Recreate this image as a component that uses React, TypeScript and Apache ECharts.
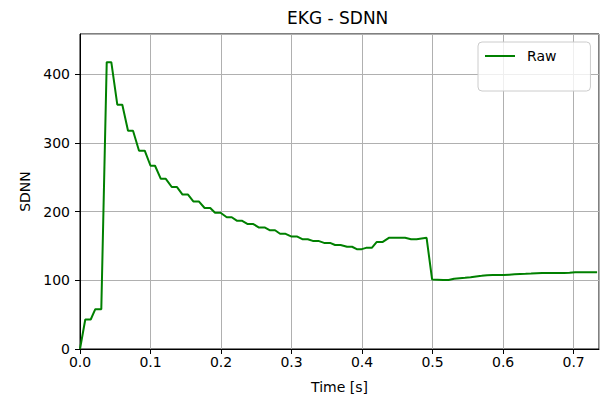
import React, { useEffect, useRef } from "react";
import * as echarts from "echarts";

const times: number[] = [
  0, 0.0075, 0.0152, 0.0217, 0.0302, 0.0379, 0.0444, 0.0529, 0.06, 0.0681,
  0.0752, 0.0837, 0.0918, 0.1, 0.1064, 0.1146, 0.1217, 0.1301, 0.1376, 0.1454,
  0.1532, 0.1607, 0.1685, 0.1767, 0.1847, 0.1915, 0.1993, 0.2081, 0.2152, 0.2223,
  0.2294, 0.2379, 0.2458, 0.2539, 0.2624, 0.2695, 0.2766, 0.2837, 0.2908, 0.2993,
  0.3074, 0.3153, 0.323, 0.3301, 0.338, 0.3461, 0.3546, 0.3617, 0.3695, 0.3787,
  0.3858, 0.3925, 0.3996, 0.4057, 0.4138, 0.4209, 0.4294, 0.438, 0.4454, 0.4532,
  0.461, 0.4695, 0.4773, 0.4844, 0.4915, 0.4993, 0.5071, 0.5149, 0.5227, 0.5305,
  0.5383, 0.5461, 0.5539, 0.5617, 0.5695, 0.5773, 0.5851, 0.5929, 0.6007, 0.6085,
  0.6163, 0.6241, 0.6319, 0.6397, 0.6475, 0.6553, 0.6631, 0.6709, 0.6787, 0.6865,
  0.6943, 0.7021, 0.7099, 0.7177, 0.7255, 0.7333,
];

const sdnn: number[] = [
  0, 43, 43, 58, 58, 418, 418, 356, 356, 318,
  318, 289, 289, 267, 267, 248, 248, 236, 236, 225,
  225, 215, 215, 205.5, 205.5, 198.5, 198.5, 192, 192, 187,
  187, 182, 182, 177, 177, 173, 173, 168, 168, 164,
  164, 160, 160, 157.5, 157.5, 154.6, 154.6, 151.5, 151.5, 149,
  149, 145.5, 145.5, 147.4, 147.4, 156, 156, 162, 162, 162,
  162, 160, 160, 161, 162, 101.4, 101, 100.6, 100.5, 102.5,
  103.2, 103.8, 104.6, 105.8, 106.6, 107.5, 107.7, 107.7, 107.8, 108.3,
  108.8, 109.3, 109.6, 110, 110.5, 110.6, 110.7, 110.8, 110.8, 110.8,
  111, 111.8, 112, 112, 112, 112,
];

const xTicksInterval = 0.1;
const yTicksInterval = 100;

export default function App() {
  const ref = useRef<HTMLDivElement>(null);
  useEffect(() => {
    document.body.style.margin = "0";
    if (!ref.current) return;
    const chart = echarts.init(ref.current, undefined, { renderer: "svg" });
    const font = "DejaVu Sans";
    chart.setOption({
      animation: false,
      backgroundColor: "#ffffff",
      title: {
        text: "EKG - SDNN",
        left: 287,
        top: 9,
        padding: 0,
        textStyle: { fontFamily: font, fontSize: 17, fontWeight: "normal", color: "#000" },
      },
      legend: {
        show: true,
        left: 478,
        top: 42,
        orient: "vertical",
        padding: [7, 34, 28, 7],
        backgroundColor: "rgba(255,255,255,0.8)",
        borderColor: "#cccccc",
        borderWidth: 1,
        borderRadius: 4,
        itemWidth: 30,
        itemHeight: 2,
        itemGap: 8,
        data: [{ name: "Raw", icon: "rect" }],
        textStyle: { fontFamily: font, fontSize: 14, color: "#000", padding: [0, 0, 0, 7] },
      },
      grid: {
        left: 80,
        top: 34,
        right: 1,
        bottom: 48,
        show: true,
        borderColor: "#000",
        borderWidth: 1,
        backgroundColor: "transparent",
      },
      xAxis: {
        type: "value",
        min: 0,
        max: 0.736,
        interval: xTicksInterval,
        name: "Time [s]",
        nameLocation: "middle",
        nameGap: 31,
        nameTextStyle: { fontFamily: font, fontSize: 14, color: "#000" },
        axisLine: { show: true, onZero: false, lineStyle: { color: "#000", width: 1 } },
        axisTick: { show: true, length: 5, lineStyle: { color: "#000" } },
        axisLabel: {
          fontFamily: font,
          fontSize: 14,
          color: "#000",
          margin: 6,
          showMaxLabel: false,
          formatter: (v: number) => v.toFixed(1),
        },
        splitLine: { show: true, lineStyle: { color: "#b0b0b0", width: 1 } },
      },
      yAxis: {
        type: "value",
        min: 0,
        max: 459,
        interval: yTicksInterval,
        name: "SDNN",
        nameLocation: "middle",
        nameGap: 48,
        nameTextStyle: { fontFamily: font, fontSize: 14, color: "#000" },
        axisLine: { show: true, lineStyle: { color: "#000", width: 1 } },
        axisTick: { show: true, length: 5, lineStyle: { color: "#000" } },
        axisLabel: {
          fontFamily: font,
          fontSize: 14,
          color: "#000",
          margin: 10,
          showMaxLabel: false,
          formatter: (v: number) => (v % 100 === 0 ? String(v) : ""),
        },
        splitLine: { show: true, lineStyle: { color: "#b0b0b0", width: 1 } },
      },
      series: [
        {
          name: "Raw",
          type: "line",
          data: times.map((t, i) => [t, sdnn[i]]),
          showSymbol: false,
          symbol: "none",
          itemStyle: { color: "#008000" },
          lineStyle: { color: "#008000", width: 2 },
        },
      ],
    });
    return () => chart.dispose();
  }, []);
  return (
    <div
      ref={ref}
      style={{ width: 600, height: 399, position: "absolute", left: 0, top: 0 }}
    />
  );
}
